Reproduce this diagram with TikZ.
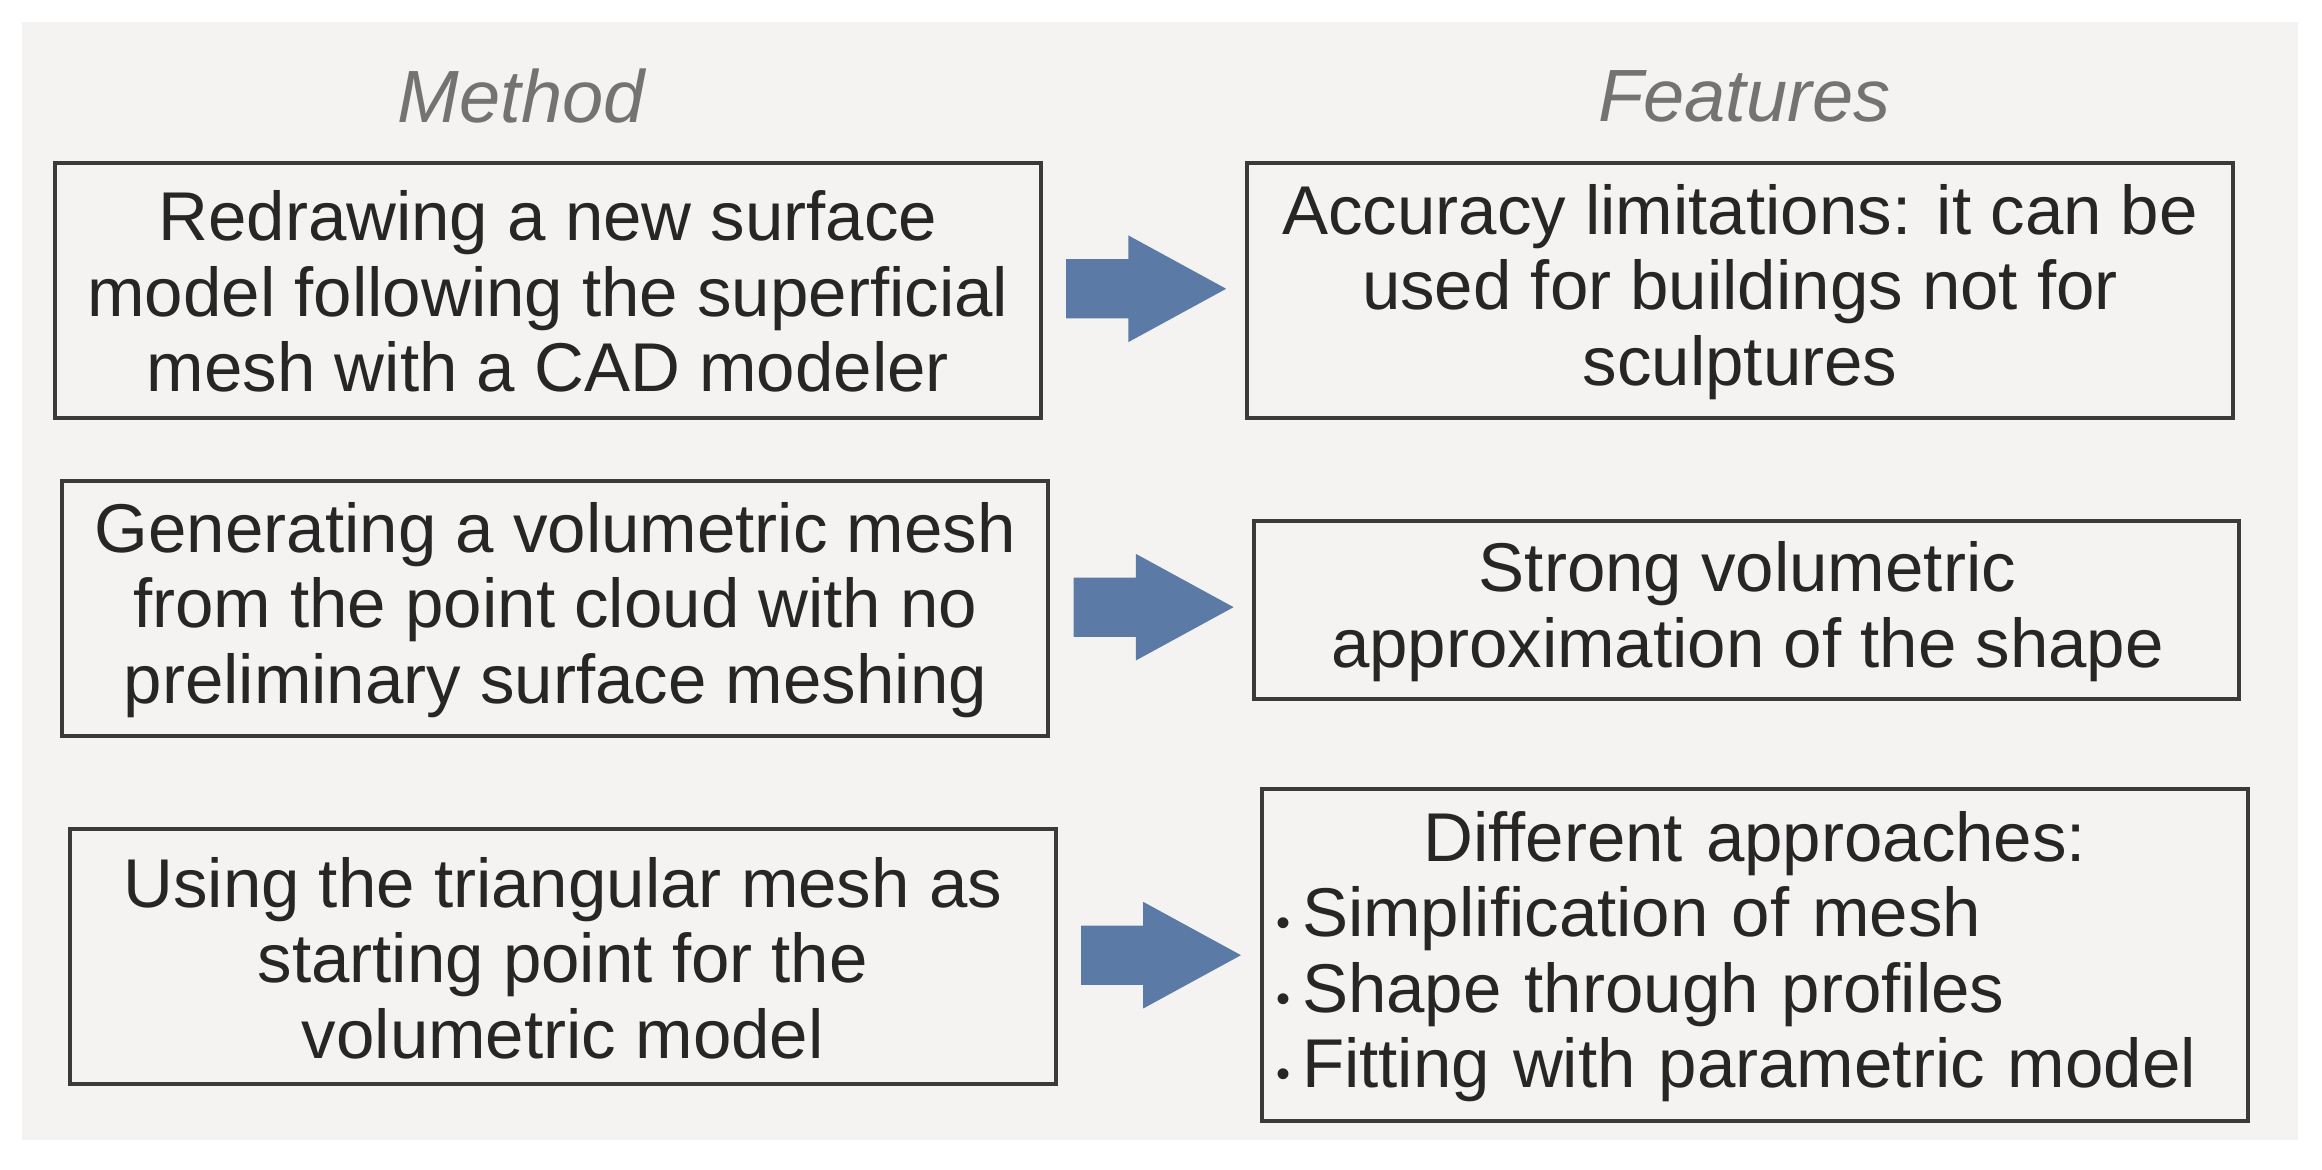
\documentclass[tikz,border=0pt]{standalone}
\usepackage{fontspec}
\setmainfont{Liberation Sans}
\definecolor{bg}{HTML}{F4F3F1}
\definecolor{ar}{HTML}{5B7BA6}
\definecolor{bd}{HTML}{3A3A3A}
\begin{document}
\begin{tikzpicture}[x=0.74pt,y=-0.74pt,
  box/.style={draw=none,inner sep=0pt,font=\fontsize{34.5}{37.7}\selectfont,text=black!85,align=center},
  frame/.style={draw=bd,line width=2pt},
  ttl/.style={font=\fontsize{37}{40}\selectfont\itshape,text=black!55},
  arr/.style={fill=ar,draw=none}]
\useasboundingbox (0,0) rectangle (1568,790);
\fill[bg] (15,15) rectangle (1552,770);
\node[ttl] (t1) at (352,65) {Method};
\node[ttl] (t2) at (1178,65) {Features};
\draw[frame] (37,110) rectangle (703,282);
\node[box] (l1) at (370,197) {Redrawing a new surface\\model following the superficial\\mesh with a CAD modeler};
\draw[frame] (842,110) rectangle (1508,282);
\node[box] (r1) at (1175,197) {Accuracy limitations: it can be\\used for buildings not for\\sculptures};
\draw[frame] (42,325) rectangle (708,497);
\node[box] (l2) at (375,412) {Generating a volumetric mesh\\from the point cloud with no\\preliminary surface meshing};
\draw[frame] (847,352) rectangle (1512,472);
\node[box] (r2) at (1180,413) {Strong volumetric\\approximation of the shape};
\draw[frame] (47,560) rectangle (713,732);
\node[box] (l3) at (380,647) {Using the triangular mesh as\\starting point for the\\volumetric model};
\draw[frame] (852,533) rectangle (1518,757);
\node[box,align=left,text width=478pt] (r3) at (1185,646) {\makebox[\linewidth][c]{Different approaches:}\\{\fontsize{20}{20}\selectfont •}\,Simplification of mesh\\{\fontsize{20}{20}\selectfont •}\,Shape through profiles\\{\fontsize{20}{20}\selectfont •}\,Fitting with parametric model};
\foreach \n/\x/\y in {a1/720/195,a2/725/410,a3/730/645}{
  \coordinate (\n) at (\x,\y);
  \fill[arr,shift={(\n)}] (0,-20) -- (42,-20) -- (42,-36) -- (108,0) -- (42,36) -- (42,20) -- (0,20) -- cycle;
}
\end{tikzpicture}
\end{document}
